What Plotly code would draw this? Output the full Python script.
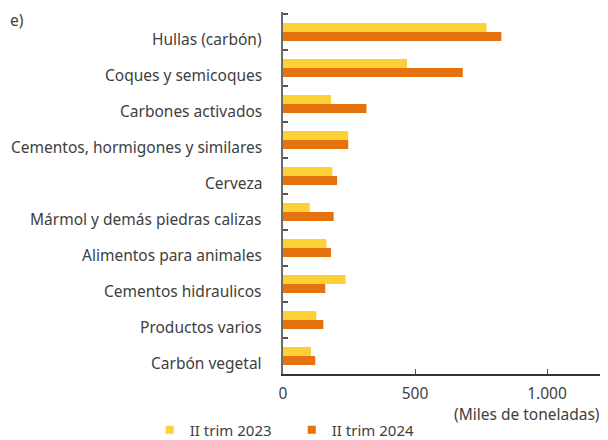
import plotly.graph_objects as go

categories = [
    "Hullas (carbón)",
    "Coques y semicoques",
    "Carbones activados",
    "Cementos, hormigones y similares",
    "Cerveza",
    "Mármol y demás piedras calizas",
    "Alimentos para animales",
    "Cementos hidraulicos",
    "Productos varios",
    "Carbón vegetal",
]
trim_2023 = [771, 470, 182, 247, 187, 101, 164, 237, 126, 106]
trim_2024 = [827, 681, 316, 247, 205, 192, 182, 160, 153, 122]
series_names = ["II trim 2023", "II trim 2024"]
x_tickvals = [0, 500, 1000]
x_title = "(Miles de toneladas)"
side_fragment = "e)"

YELLOW = "#FDD036"
ORANGE = "#E5720C"
TEXT = "#404040"
FONT = "Noto Sans"
FS = 15.5
colors = [YELLOW, ORANGE]

fig = go.Figure()
for name, vals, col in zip(series_names, [trim_2023, trim_2024], colors):
    fig.add_trace(go.Bar(y=categories, x=vals, orientation="h", name=name,
                         marker=dict(color=col, line=dict(width=0)), showlegend=False))
# legend entries with small square keys
for name, col in zip(series_names, colors):
    fig.add_trace(go.Scatter(x=[None], y=[None], mode="markers", name=name,
                             marker=dict(symbol="square", size=8, color=col)))

annotations = [
    dict(text=c, xref="paper", yref="y", x=0, y=c, xanchor="right", yanchor="middle",
         xshift=-19, yshift=-7, showarrow=False,
         font=dict(family=FONT, size=FS, color=TEXT))
    for c in categories
]
annotations.append(dict(text=x_title, xref="paper", yref="paper", x=0.982, y=-0.11,
                        xanchor="right", yanchor="middle", showarrow=False,
                        font=dict(family=FONT, size=FS, color=TEXT)))
annotations.append(dict(text=side_fragment, xref="paper", yref="paper", x=-0.846, y=0.977,
                        xanchor="left", yanchor="middle", showarrow=False,
                        font=dict(family=FONT, size=FS, color=TEXT)))

# the page body has an 8px margin, so the figure is 8px smaller than the window
fig.update_layout(
    width=600, height=432,
    margin=dict(l=275, r=0, t=4, b=66, autoexpand=False),
    paper_bgcolor="white", plot_bgcolor="white",
    barmode="group", bargap=0.5, bargroupgap=0,
    separators=",.",
    font=dict(family=FONT, size=FS, color=TEXT),
    showlegend=True,
    legend=dict(orientation="h", x=-0.41, xanchor="left", y=-0.155, yanchor="middle",
                font=dict(family=FONT, size=15, color=TEXT), itemwidth=30,
                entrywidth=97, traceorder="normal"),
    xaxis=dict(range=[0, 1231], tickvals=x_tickvals, ticks="inside", ticklen=5,
               tickcolor="#555", tickwidth=1, showgrid=False, zeroline=False,
               showline=True, linecolor="#333", linewidth=2, ticklabelstandoff=4,
               separatethousands=True,
               tickfont=dict(family=FONT, size=FS, color=TEXT)),
    yaxis=dict(autorange="reversed", ticks="inside", tickson="boundaries", ticklen=5,
               tickcolor="#555", tickwidth=2, showgrid=False, zeroline=False,
               showline=True, linecolor="#6b6b6b", linewidth=2,
               showticklabels=False),
    annotations=annotations,
)

fig.write_html("out.html")
